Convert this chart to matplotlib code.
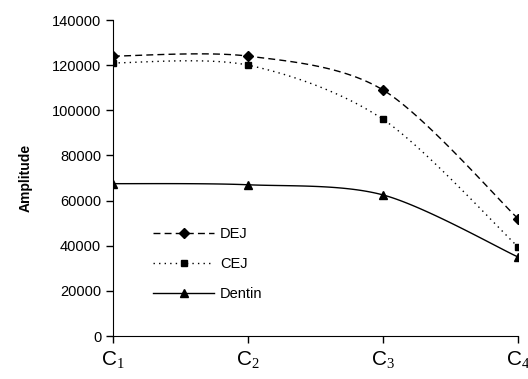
import numpy as np
import matplotlib
matplotlib.use("Agg")
from matplotlib import pyplot as plt

plt.rcParams['font.family'] = ['Liberation Sans', 'DejaVu Sans']
plt.rcParams['mathtext.fontset'] = 'custom'
plt.rcParams['mathtext.rm'] = 'Liberation Serif'
plt.rcParams['mathtext.it'] = 'Liberation Serif'

categories = [r'C$_{\mathrm{1}}$', r'C$_{\mathrm{2}}$', r'C$_{\mathrm{3}}$', r'C$_{\mathrm{4}}$']
dej = [124000, 124000, 109000, 52000]
cej = [121000, 120000, 96000, 39500]
dentin = [67500, 67000, 62500, 35000]


def smooth(xs, ys, n=40):
	# catmull-rom style curve through the points, like excel "smoothed line"
	xs = np.asarray(xs, float)
	ys = np.asarray(ys, float)
	px = np.concatenate(([xs[0]], xs, [xs[-1]]))
	py = np.concatenate(([ys[0]], ys, [ys[-1]]))
	outx, outy = [], []
	for i in range(1, len(px) - 2):
		t = np.linspace(0, 1, n)
		for p, out in ((px, outx), (py, outy)):
			p0, p1, p2, p3 = p[i - 1], p[i], p[i + 1], p[i + 2]
			m1 = (p2 - p0) / 2.0 * 0.9
			m2 = (p3 - p1) / 2.0 * 0.9
			h00 = 2 * t**3 - 3 * t**2 + 1
			h10 = t**3 - 2 * t**2 + t
			h01 = -2 * t**3 + 3 * t**2
			h11 = t**3 - t**2
			out.extend(h00 * p1 + h10 * m1 + h01 * p2 + h11 * m2)
	return np.array(outx), np.array(outy)


fig = plt.figure(figsize=(5.28, 3.79), dpi=100)
ax = fig.add_axes([113 / 528, 1 - 336 / 379, (518 - 113) / 528, (336 - 20) / 379])

x = np.arange(len(categories))
series = [
	(dej, "DEJ", (0, (5, 3)), 'D', 5),
	(cej, "CEJ", (0, (1, 3)), 's', 5),
	(dentin, "Dentin", '-', '^', 6),
]
for vals, name, ls, mk, ms in series:
	sx, sy = smooth(x, vals)
	ax.plot(sx, sy, color='black', linestyle=ls, linewidth=1)
	ax.plot(x, vals, linestyle='none', marker=mk, markersize=ms, color='black')
	ax.plot([], [], color='black', linestyle=ls, linewidth=1, marker=mk, markersize=ms, label=name)

ax.set_xlim(0, 3)
ax.set_ylim(0, 140000)
ax.set_yticks(np.arange(0, 140001, 20000))
ax.set_xticks(x)
ax.set_xticklabels(categories, fontsize=15)
ax.tick_params(axis='y', labelsize=10.5, direction='out', length=5, width=1)
ax.tick_params(axis='x', direction='out', length=5, width=1, pad=4)
ax.set_ylabel("Amplitude", fontsize=10, fontweight='bold', labelpad=14)
ax.spines['top'].set_visible(False)
ax.spines['right'].set_visible(False)

ax.legend(loc='upper left', bbox_to_anchor=(140 / 528, 1 - 214 / 379), bbox_transform=fig.transFigure,
	frameon=False, fontsize=10.5, handlelength=4.2, labelspacing=1.1, handletextpad=0.4)

fig.savefig("out.png", dpi=100)
